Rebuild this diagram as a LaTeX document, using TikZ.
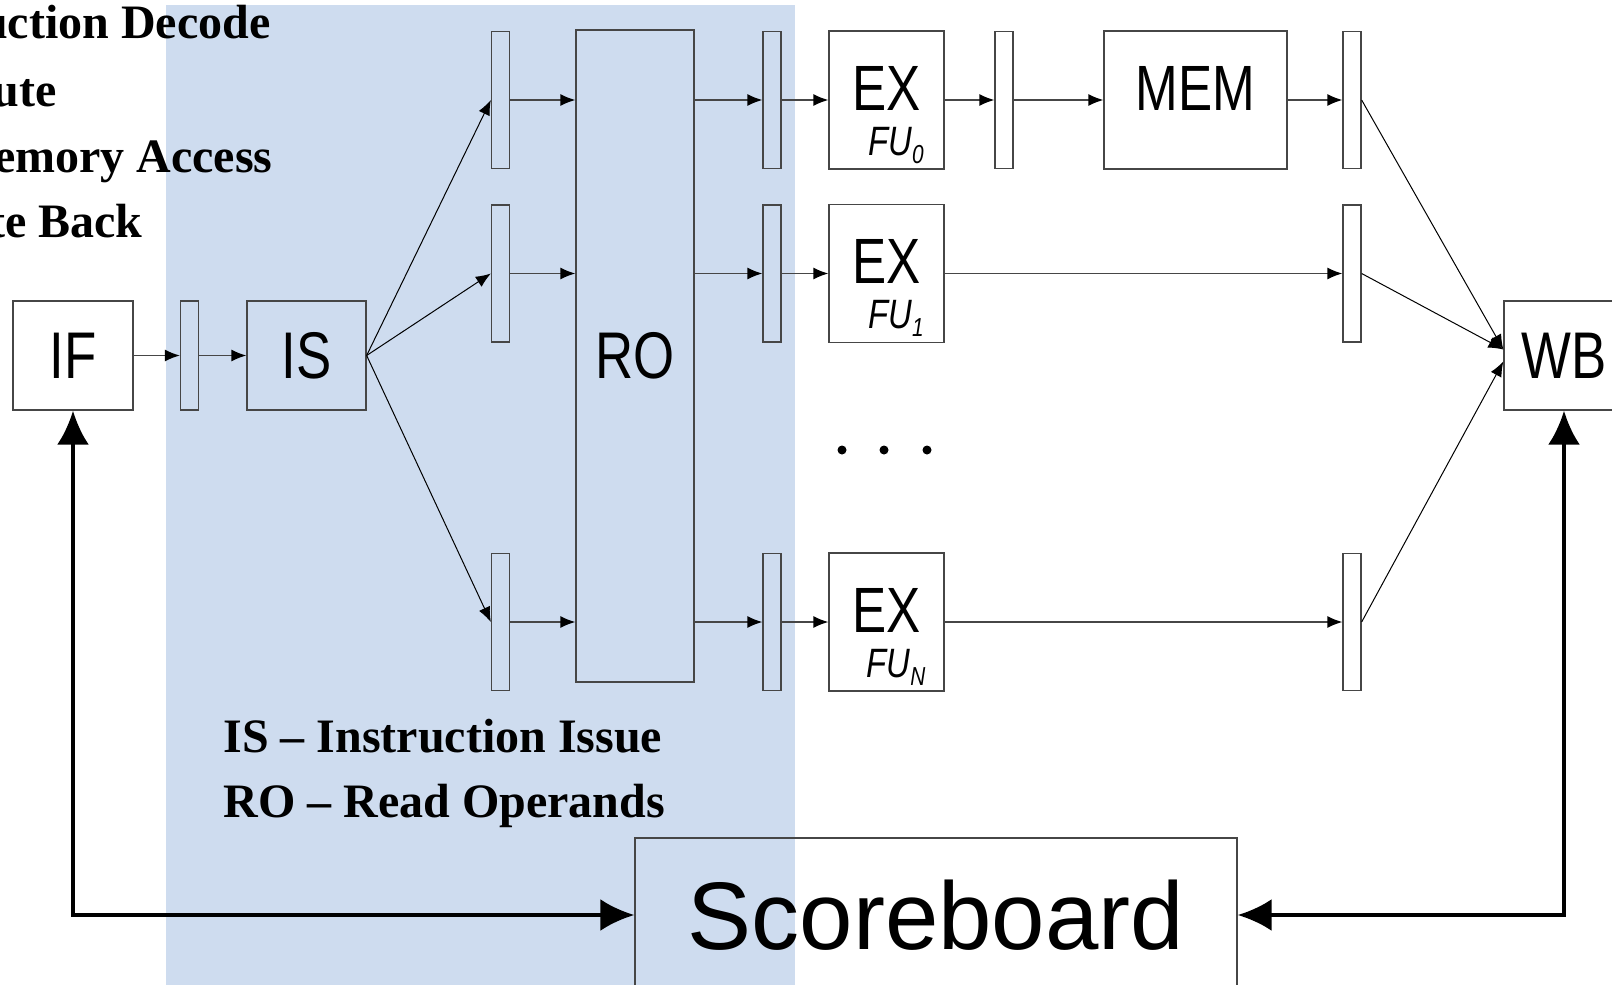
\documentclass[tikz,border=0pt]{standalone}
\usepackage{fontspec}
\setmainfont{Liberation Serif}
\newfontfamily\boxfont[FakeStretch=0.8]{Liberation Sans}
\newfontfamily\boardfont{Liberation Sans}
\usetikzlibrary{arrows.meta}
\definecolor{veil}{RGB}{206,220,239}
\definecolor{edge}{RGB}{70,70,70}
\tikzset{
  stage/.style={draw=edge, line width=0.65pt, inner sep=0pt, font=\boxfont\fontsize{33}{33}\selectfont},
  unitname/.style={inner sep=0pt, font=\boxfont\fontsize{32}{32}\selectfont},
  latch/.style={draw=edge, line width=0.65pt, inner sep=0pt, minimum width=9pt, minimum height=68.5pt},
  flow/.style={draw=edge, line width=0.65pt, -{Latex[length=7.5pt,width=6pt,color=black]}},
  fan/.style={line width=0.5pt, -{Latex[length=7.5pt,width=6pt]}},
  bus/.style={line width=2pt, {Latex[length=17pt,width=16pt]}-{Latex[length=17pt,width=16pt]}},
  legend/.style={font=\bfseries\fontsize{24}{24}\selectfont, inner sep=0pt},
  fulabel/.style={font=\boxfont\itshape\fontsize{20.5}{20.5}\selectfont, inner sep=0pt}
}
\newcommand{\fusub}[1]{\raisebox{-4pt}{\fontsize{13}{13}\selectfont #1}}
\begin{document}
\begin{tikzpicture}[x=0.5pt,y=-0.5pt]
    \useasboundingbox (0,0) rectangle (1612,985);
    % shaded area behind IS and RO
    \fill[veil] (166,5) rectangle (795,985);
    % stage names
    \node[legend, anchor=base east] (ttid) at (271,39) {uction Decode};
    \node[legend, anchor=base east] (ttex) at (57,106) {ute};
    \node[legend, anchor=base east] (ttmem) at (273,172) {emory Access};
    \node[legend, anchor=base east] (ttwb) at (143,237) {te Back};
    \node[legend, anchor=base west] (ttis) at (223,752) {IS – Instruction Issue};
    \node[legend, anchor=base west] (ttro) at (223,817) {RO – Read Operands};
    % fetch and issue
    \node[stage, minimum width=60pt, minimum height=54.5pt] (IF) at (73,355.5) {IF};
    \node[latch, minimum height=54.5pt] (L0) at (189.5,355.5) {};
    \node[stage, minimum width=59.5pt, minimum height=54.5pt] (IS) at (306.5,355.5) {IS};
    % read operands
    \node[latch] (L1a) at (500.5,100) {};
    \node[latch] (L1b) at (500.5,273.5) {};
    \node[latch] (L1c) at (500.5,622) {};
    \node[stage, minimum width=59pt, minimum height=326pt] (RO) at (635,356) {RO};
    \node[latch] (L2a) at (772,100) {};
    \node[latch] (L2b) at (772,273.5) {};
    \node[latch] (L2c) at (772,622) {};
    % functional units
    \node[stage, minimum width=57.5pt, minimum height=69pt] (EX0) at (886.5,100) {};
    \node[stage, minimum width=57.5pt, minimum height=69pt] (EX1) at (886.5,273.5) {};
    \node[stage, minimum width=57.5pt, minimum height=69pt] (EXN) at (886.5,622) {};
    \node[unitname, anchor=base] (EX0t) at (886.5,110) {EX};
    \node[unitname, anchor=base] (EX1t) at (886.5,283.5) {EX};
    \node[unitname, anchor=base] (EXNt) at (886.5,632) {EX};
    \node[fulabel, anchor=base] (fu0) at (896,155) {FU\fusub{0}};
    \node[fulabel, anchor=base] (fu1) at (896,328.5) {FU\fusub{1}};
    \node[fulabel, anchor=base] (fuN) at (896,677) {FU\fusub{N}};
    \fill (842,450) circle (4.5);
    \fill (884,450) circle (4.5);
    \fill (927,450) circle (4.5);
    \node[latch] (L3) at (1004,100) {};
    \node[stage, minimum width=91.5pt, minimum height=69pt] (MEM) at (1195.5,100) {};
    \node[unitname, anchor=base] (MEMt) at (1195.5,110) {MEM};
    \node[latch] (L4a) at (1352,100) {};
    \node[latch] (L4b) at (1352,273.5) {};
    \node[latch] (L4c) at (1352,622) {};
    \node[stage, minimum width=60pt, minimum height=54.5pt] (WB) at (1564,355.5) {WB};
    \node[stage, font=\boardfont\fontsize{48}{48}\selectfont, minimum width=301pt, minimum height=77pt] (board) at (936,915) {Scoreboard};
    % pipeline flow
    \draw[flow] (IF) -- (L0);
    \draw[flow] (L0) -- (IS);
    \draw[fan] (IS.east) -- (L1a.west);
    \draw[fan] (IS.east) -- (L1b.west);
    \draw[fan] (IS.east) -- (L1c.west);
    \draw[flow] (L1a.east) -- (L1a.east -| RO.west);
    \draw[flow] (L1b.east) -- (L1b.east -| RO.west);
    \draw[flow] (L1c.east) -- (L1c.east -| RO.west);
    \draw[flow] (RO.east |- L2a.west) -- (L2a.west);
    \draw[flow] (RO.east |- L2b.west) -- (L2b.west);
    \draw[flow] (RO.east |- L2c.west) -- (L2c.west);
    \draw[flow] (L2a) -- (EX0);
    \draw[flow] (L2b) -- (EX1);
    \draw[flow] (L2c) -- (EXN);
    \draw[flow] (EX0) -- (L3);
    \draw[flow] (L3) -- (MEM);
    \draw[flow] (MEM) -- (L4a);
    \draw[flow] (EX1) -- (L4b);
    \draw[flow] (EXN) -- (L4c);
    \draw[fan] (L4a.east) -- ([yshift=3pt]WB.west);
    \draw[fan] (L4b.east) -- ([yshift=3pt]WB.west);
    \draw[fan] (L4c.east) -- ([yshift=-3pt]WB.west);
    % scoreboard links
    \draw[bus] (IF.south) |- (board.west);
    \draw[bus] (WB.south) |- (board.east);
\end{tikzpicture}
\end{document}
